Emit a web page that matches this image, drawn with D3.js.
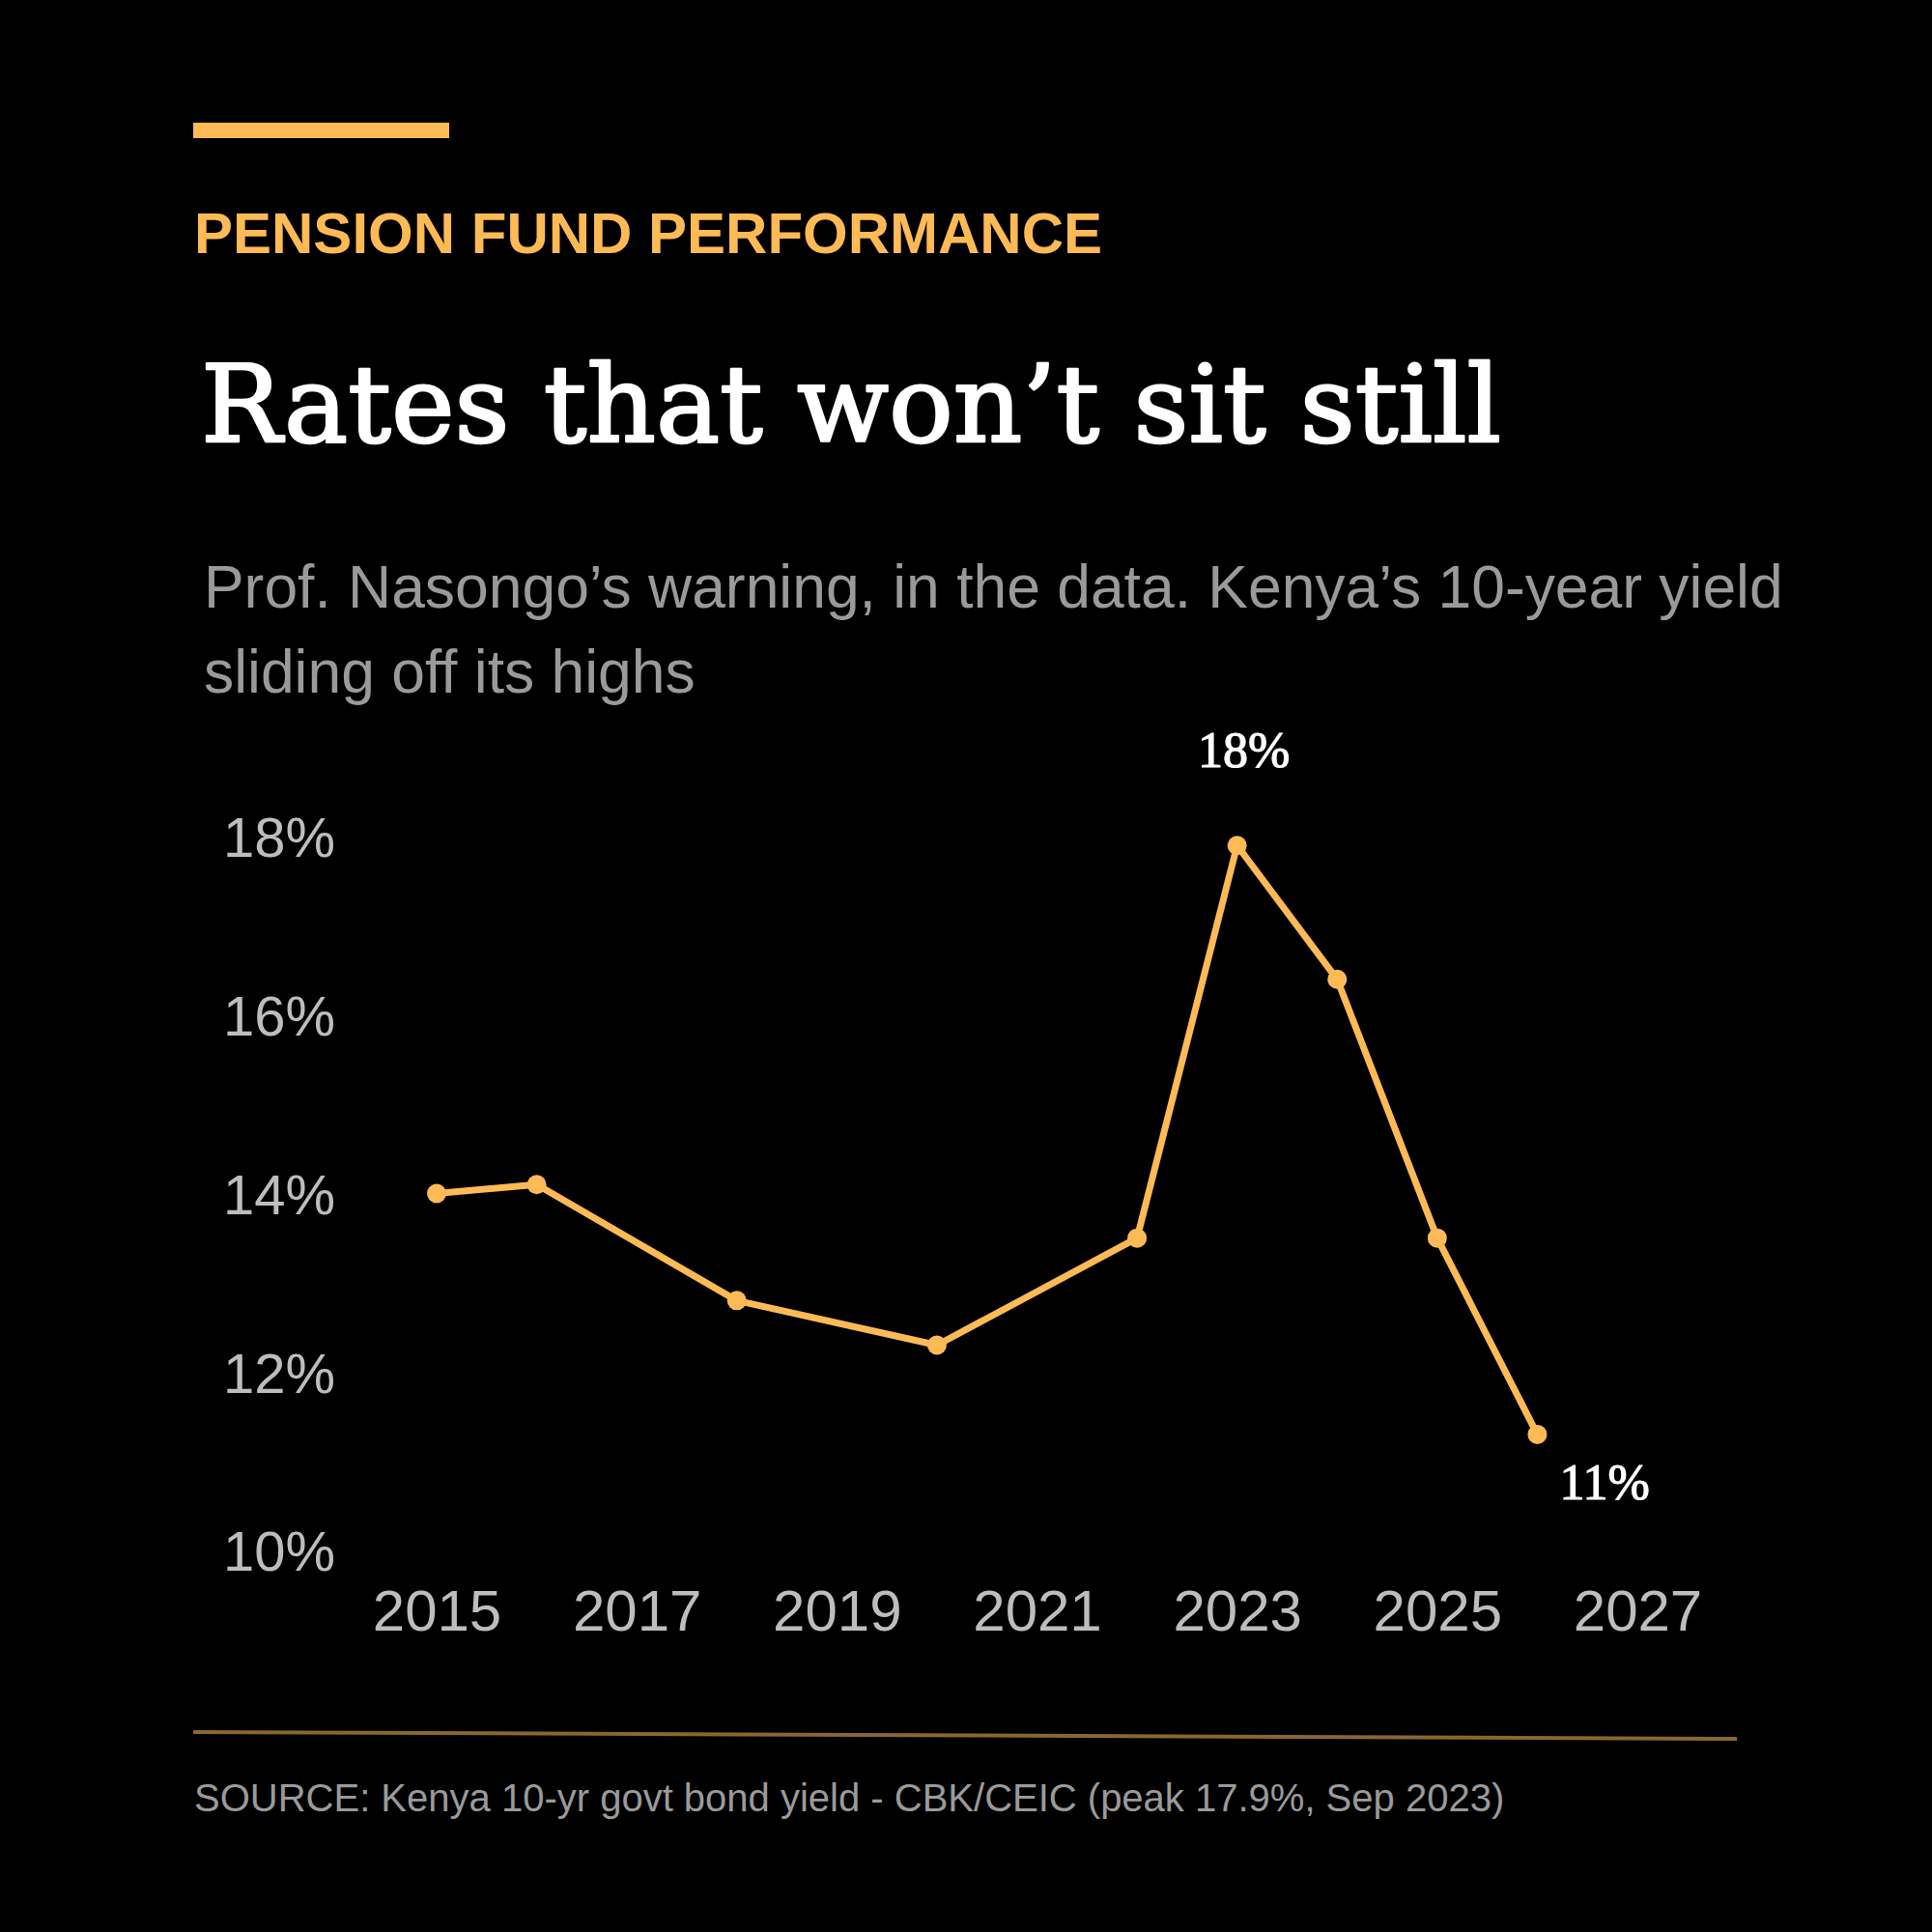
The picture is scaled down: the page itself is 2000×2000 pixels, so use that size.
<!DOCTYPE html>
<html>
<head>
<meta charset="utf-8">
<script src="https://cdn.jsdelivr.net/npm/d3@7/dist/d3.min.js"></script>
<style>
  html, body { margin: 0; padding: 0; background: #000; }
  svg { display: block; }
</style>
</head>
<body>
<script>
// ---- data ----
const years = [2015, 2016, 2018, 2020, 2022, 2023, 2024, 2025, 2026];
const yields = [14.0, 14.1, 12.8, 12.3, 13.5, 17.9, 16.4, 13.5, 11.3];
const yTicks = [10, 12, 14, 16, 18];
const xTicks = [2015, 2017, 2019, 2021, 2023, 2025, 2027];
const kicker = "PENSION FUND PERFORMANCE";
const title = "Rates that won\u2019t sit still";
const subtitleLines = ["Prof. Nasongo\u2019s warning, in the data. Kenya\u2019s 10-year yield", "sliding off its highs"];
const source = "SOURCE: Kenya 10-yr govt bond yield - CBK/CEIC (peak 17.9%, Sep 2023)";

const data = years.map((y, i) => ({ year: y, value: yields[i] }));

const W = 2000, H = 2000;
const ORANGE = "#FDBA55";
const svg = d3.select("body").append("svg").attr("width", W).attr("height", H);
svg.append("rect").attr("width", W).attr("height", H).attr("fill", "#000");

// header
svg.append("rect").attr("x", 200).attr("y", 127).attr("width", 265).attr("height", 16).attr("fill", ORANGE);
svg.append("text").attr("x", 201).attr("y", 262)
  .attr("font-family", "Liberation Sans, Arial, sans-serif").attr("font-weight", 700)
  .attr("font-size", 60).attr("fill", ORANGE).text(kicker);
svg.append("text").attr("x", 208).attr("y", 457)
  .attr("font-family", "DejaVu Serif, serif").attr("font-weight", 400)
  .attr("font-size", 111).attr("fill", "#fff")
  .attr("stroke", "#fff").attr("stroke-width", 2.5).attr("stroke-linejoin", "round")
  .text(title);
svg.append("g").selectAll("text").data(subtitleLines).join("text")
  .attr("x", 211).attr("y", (d, i) => 629 + i * 88)
  .attr("font-family", "Liberation Sans, Arial, sans-serif")
  .attr("font-size", 62.4).attr("fill", "#9a9a9a").text(d => d);

// scales
const x = d3.scaleLinear().domain([2015, 2027]).range([452, 1695]);
const y = d3.scaleLinear().domain([10, 18]).range([1605, 866]);

// y axis
const gy = svg.append("g").attr("transform", "translate(347,0)")
  .call(d3.axisLeft(y).tickValues(yTicks).tickSize(0).tickPadding(0).tickFormat(d => d + "%"));
gy.select(".domain").remove();
gy.selectAll("text").attr("font-family", "Liberation Sans, Arial, sans-serif")
  .attr("font-size", 58).attr("fill", "#bdbdbd").attr("dy", "0.36em");

// x axis
const gx = svg.append("g").attr("transform", "translate(0,1688)")
  .call(d3.axisBottom(x).tickValues(xTicks).tickSize(0).tickPadding(0).tickFormat(d3.format("d")));
gx.select(".domain").remove();
gx.selectAll("text").attr("font-family", "Liberation Sans, Arial, sans-serif")
  .attr("font-size", 60).attr("fill", "#bdbdbd").attr("dy", 0);

// line
const line = d3.line().x(d => x(d.year)).y(d => y(d.value));
svg.append("path").datum(data).attr("d", line)
  .attr("fill", "none").attr("stroke", ORANGE).attr("stroke-width", 7)
  .attr("stroke-linejoin", "round");
svg.append("g").selectAll("circle").data(data).join("circle")
  .attr("cx", d => x(d.year)).attr("cy", d => y(d.value)).attr("r", 10).attr("fill", ORANGE);

// annotations
const peak = data.reduce((a, b) => (b.value > a.value ? b : a));
const last = data[data.length - 1];
const fmt = v => d3.format(".0f")(v) + "%";
svg.append("text").attr("x", x(peak.year) + 7).attr("y", y(peak.value) - 81)
  .attr("text-anchor", "middle")
  .attr("font-family", "Liberation Serif, Times New Roman, serif").attr("font-weight", 400)
  .attr("font-size", 52).attr("fill", "#fff").attr("stroke", "#fff").attr("stroke-width", 1.2)
  .text(fmt(peak.value));
svg.append("text").attr("x", x(last.year) + 23).attr("y", y(last.value) + 67)
  .attr("font-family", "Liberation Serif, Times New Roman, serif").attr("font-weight", 400)
  .attr("font-size", 52).attr("fill", "#fff").attr("stroke", "#fff").attr("stroke-width", 1.2)
  .text(fmt(last.value));

// footer rule and source
svg.append("line").attr("x1", 200).attr("y1", 1793).attr("x2", 1798).attr("y2", 1800)
  .attr("stroke", ORANGE).attr("stroke-opacity", 0.55).attr("stroke-width", 4);
svg.append("text").attr("x", 201).attr("y", 1875)
  .attr("font-family", "Liberation Sans, Arial, sans-serif")
  .attr("font-size", 40).attr("fill", "#9a9a9a").text(source);
</script>
</body>
</html>
